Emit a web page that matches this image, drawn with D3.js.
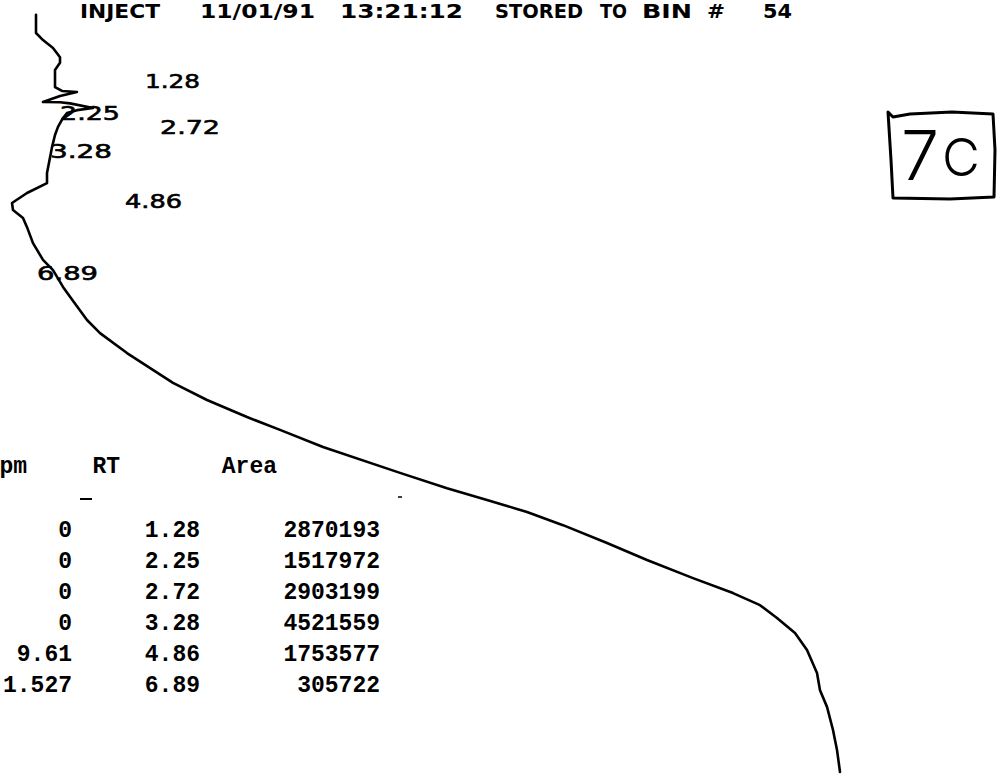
<!DOCTYPE html>
<html lang="en">
<head>
  <meta charset="UTF-8">
  <title>Chromatogram 7C</title>
  <script src="https://d3js.org/d3.v7.min.js"></script>
  <style>
    body { margin: 0; background: #fff; }
    svg { display: block; }
  </style>
</head>
<body>
  <svg id="svg1"></svg>
  <script type="module">
    // trace: retention time (min) vs detector signal (mV)
    const times = [-0.37, 0.14, 0.34, 0.56, 0.82, 0.98, 1.18, 1.66, 1.77, 1.80, 1.91, 2.08, 2.09, 2.12, 2.25,
      2.31, 2.39, 2.53, 2.78, 3.01, 3.35, 4.08, 4.36, 4.64, 4.92, 5.12, 5.34, 5.60, 6.05, 6.52, 6.81,
      7.28, 7.56, 8.21, 8.58, 9.14, 9.98, 10.46, 10.94, 11.30, 11.78, 12.51, 12.94, 13.27, 13.61,
      13.98, 14.48, 14.96, 15.47, 15.89, 16.23, 16.59, 17.01, 17.49, 18.14, 18.62, 19.09, 19.74,
      20.30, 20.92];
    const signal = [26, 26, 33, 43, 50, 50, 45, 45, 52, 67, 50, 33, 50, 60, 83,
      67, 57, 53, 48, 45, 42, 37, 37, 17, 2, 3, 13, 17, 23, 33, 43,
      53, 60, 77, 90, 117, 163, 197, 237, 270, 313, 390, 437, 477, 517,
      553, 597, 637, 683, 723, 750, 767, 785, 797, 807, 810, 817, 823,
      827, 830];

    // peak report
    const peakRT = [1.28, 2.25, 2.72, 3.28, 4.86, 6.89];
    const peakPpm = ['0', '0', '0', '0', '9.61', '1.527'];
    const peakArea = ['2870193', '1517972', '2903199', '4521559', '1753577', '305722'];
    const tableHeads = ['ppm', 'RT', 'Area'];
    const headerWords = ['INJECT', '11/01/91', '13:21:12', 'STORED', 'TO', 'BIN', '#', '54'];

    const width = 997, height = 777;
    const svg = d3.select('#svg1').attr('width', width).attr('height', height);

    const xScale = d3.scaleLinear().domain([0, 830]).range([10, 840]);
    const yScale = d3.scaleLinear().domain([0, 21]).range([28, 774.8]);

    // printer header along the top edge
    const headerPos = [[80, 80], [200, 115], [340, 123], [495, 88], [600, 27], [642, 50], [707, 18], [763, 29]];
    svg.append('g')
      .selectAll('text')
      .data(headerWords)
      .join('text')
      .attr('x', (d, i) => headerPos[i][0])
      .attr('y', 18)
      .attr('textLength', (d, i) => headerPos[i][1])
      .attr('lengthAdjust', 'spacingAndGlyphs')
      .attr('font-family', 'DejaVu Sans Condensed, DejaVu Sans')
      .attr('font-weight', 'bold')
      .attr('font-size', 19)
      .attr('fill', '#000')
      .text(d => d);

    const line = d3.line()
      .x((d, i) => xScale(signal[i]))
      .y(d => yScale(d));

    svg.append('path')
      .datum(times)
      .attr('fill', 'none')
      .attr('stroke', '#000')
      .attr('stroke-width', 2.6)
      .attr('stroke-linejoin', 'round')
      .attr('stroke-linecap', 'round')
      .attr('d', line);

    // retention time labels beside the peaks
    const labelPos = [[145, 14.5, 55], [60, 12, 60], [160, 9.5, 60], [50, 13.5, 62], [125, 7.5, 57], [37, 7, 61]];
    svg.append('g')
      .selectAll('text')
      .data(peakRT)
      .join('text')
      .attr('x', (d, i) => labelPos[i][0])
      .attr('y', (d, i) => yScale(d) + labelPos[i][1])
      .attr('textLength', (d, i) => labelPos[i][2])
      .attr('lengthAdjust', 'spacingAndGlyphs')
      .attr('font-family', 'DejaVu Sans')
      .attr('font-size', 19)
      .attr('fill', '#000')
      .attr('stroke', '#000')
      .attr('stroke-width', 0.6)
      .text(d => d.toFixed(2));

    // report table
    const colRight = [72, 200, 380];
    const rowY = d3.scaleLinear().domain([0, 5]).range([537, 692]);
    const mono = 'Liberation Mono, Courier New, monospace';

    const table = svg.append('g')
      .attr('font-family', mono)
      .attr('font-weight', 'bold')
      .attr('font-size', 23)
      .attr('fill', '#000')
      .attr('text-anchor', 'end');

    table.selectAll('text.head')
      .data(tableHeads)
      .join('text')
      .attr('class', 'head')
      .attr('x', (d, i) => [27, 120, 277][i])
      .attr('y', 473)
      .text(d => d);

    const cols = [peakPpm, peakRT.map(d => d.toFixed(2)), peakArea];
    cols.forEach((col, c) => {
      table.append('g')
        .selectAll('text')
        .data(col)
        .join('text')
        .attr('x', colRight[c])
        .attr('y', (d, i) => rowY(i))
        .text(d => d);
    });

    svg.append('line').attr('x1', 80).attr('x2', 92).attr('y1', 499).attr('y2', 499)
      .attr('stroke', '#000').attr('stroke-width', 2);
    svg.append('line').attr('x1', 398).attr('x2', 402).attr('y1', 497).attr('y2', 497)
      .attr('stroke', '#000').attr('stroke-width', 1.5);

    // hand written sample tag
    svg.append('path')
      .attr('d', 'M888,112 L893,117 L910,114 L952,112 L993,114 L995,150 L994,197 L950,199 L893,198 L891,160 Z')
      .attr('fill', 'none')
      .attr('stroke', '#000')
      .attr('stroke-width', 3)
      .attr('stroke-linejoin', 'round');
    svg.append('text')
      .attr('x', 901).attr('y', 180)
      .attr('font-family', 'Inter, DejaVu Sans')
      .attr('font-weight', 300)
      .attr('font-size', 68)
      .attr('fill', '#000')
      .text('7');
    svg.append('text')
      .attr('x', 942).attr('y', 176)
      .attr('font-family', 'Inter, DejaVu Sans')
      .attr('font-weight', 300)
      .attr('font-size', 52)
      .attr('fill', '#000')
      .text('C');
  </script>
</body>
</html>
